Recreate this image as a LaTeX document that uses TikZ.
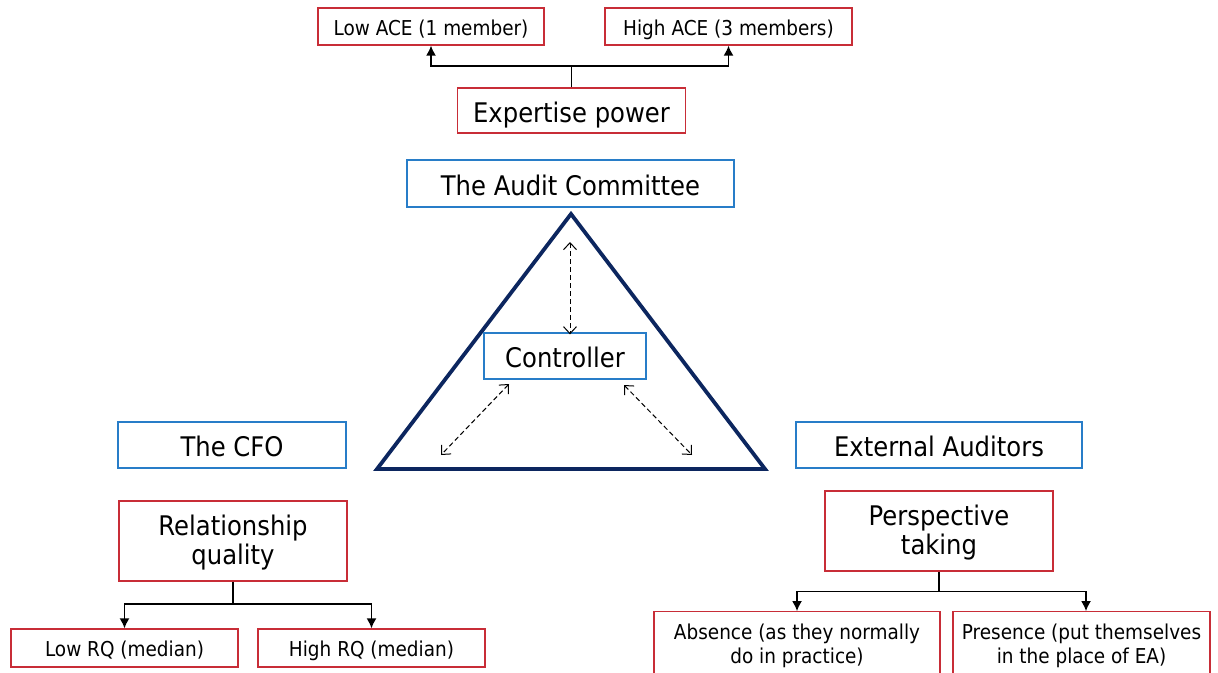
\documentclass[tikz,border=0pt]{standalone}
\usepackage{fontspec}
\setmainfont{DejaVu Sans}[FakeStretch=0.9]
\usetikzlibrary{arrows.meta}
\definecolor{boxred}{RGB}{200,45,55}
\definecolor{boxblue}{RGB}{40,125,200}
\definecolor{navy}{RGB}{12,38,95}
\newcommand{\firstlinestrut}{\rule{0pt}{24.5pt}}
\tikzset{
  redbox/.style={draw=boxred, line width=1.3pt, inner sep=0pt, align=center, fill=white},
  bluebox/.style={draw=boxblue, line width=1.3pt, inner sep=0pt, align=center, fill=white},
  bigtxt/.style={font=\fontsize{27}{29}\selectfont},
  smalltxt/.style={font=\fontsize{20.5}{24}\selectfont},
  onebig/.style={text height=23pt, text depth=0pt},
  onesmall/.style={text height=17.4pt, text depth=0pt},
  conn/.style={line width=1.5pt, black},
  arr/.style={conn, -{Latex[length=10pt,width=10pt]}},
  dasharr/.style={line width=1pt, black, dash pattern=on 5pt off 3pt, {Straight Barb[length=7pt,width=13pt]}-{Straight Barb[length=7pt,width=13pt]}}
}
\begin{document}
\begin{tikzpicture}[x=1pt,y=-1pt]
\useasboundingbox (0,0) rectangle (1218,672);
% top
\node[redbox, smalltxt, onesmall, minimum width=226pt, minimum height=37pt] (lowace) at (431,26.5) {Low ACE (1 member)};
\node[redbox, smalltxt, onesmall, minimum width=247pt, minimum height=37pt] (highace) at (728.5,26.5) {High ACE (3 members)};
\node[redbox, bigtxt, onebig, minimum width=228pt, minimum height=45pt] (exp) at (571.5,110.5) {Expertise power};
\coordinate (j1) at (571.5,66);
\draw[conn] (exp.north) -- (j1);
\draw[arr] (j1) -| (lowace.south);
\draw[arr] (j1) -| (highace.south);
% triangle
\node[bluebox, bigtxt, onebig, minimum width=327pt, minimum height=47pt] (ac) at (570.5,183.5) {The Audit Committee};
\coordinate (apex) at (571,214);
\coordinate (bl) at (377,469);
\coordinate (br) at (765,469);
\draw[navy, line width=3.8pt, line join=miter] (apex) -- (br) -- (bl) -- cycle;
\node[bluebox, bigtxt, onebig, minimum width=162pt, minimum height=46pt] (ctrl) at (565,356) {Controller};
\coordinate (dtop) at (570,242);
\coordinate (dl1) at (509,384);
\coordinate (dl2) at (441,455);
\coordinate (dr1) at (624,385);
\coordinate (dr2) at (692,455);
\draw[dasharr] (dtop) -- ([xshift=5pt,yshift=-2pt]ctrl.north);
\draw[dasharr] (dl1) -- (dl2);
\draw[dasharr] (dr1) -- (dr2);
% sides
\node[bluebox, bigtxt, onebig, minimum width=228pt, minimum height=46pt] (cfo) at (232,445) {The CFO};
\node[bluebox, bigtxt, onebig, minimum width=286pt, minimum height=46pt] (ea) at (939,445) {External Auditors};
% left bottom
\node[redbox, bigtxt, minimum width=228pt, minimum height=80pt] (relq) at (233,541) {\firstlinestrut Relationship\\quality};
\node[redbox, smalltxt, onesmall, minimum width=227pt, minimum height=38pt] (lowrq) at (124.5,648) {Low RQ (median)};
\node[redbox, smalltxt, onesmall, minimum width=227pt, minimum height=38pt] (highrq) at (371.5,648) {High RQ (median)};
\coordinate (j2) at (233,604);
\draw[conn] (relq.south) -- (j2);
\draw[arr] (j2) -| (lowrq.north);
\draw[arr] (j2) -| (highrq.north);
% right bottom
\node[redbox, bigtxt, minimum width=228pt, minimum height=80pt] (persp) at (939,531) {\firstlinestrut Perspective\\taking};
\node[redbox, smalltxt, minimum width=286pt, minimum height=68pt] (abs) at (797,645.7) {Absence (as they normally\\do in practice)};
\node[redbox, smalltxt, minimum width=257pt, minimum height=68pt] (pres) at (1081.5,645.7) {Presence (put themselves\\in the place of EA)};
\coordinate (j3) at (939,591.5);
\draw[conn] (persp.south) -- (j3);
\draw[arr] (j3) -| (abs.north);
\draw[arr] (j3) -| ([xshift=4.5pt]pres.north);
\end{tikzpicture}
\end{document}
